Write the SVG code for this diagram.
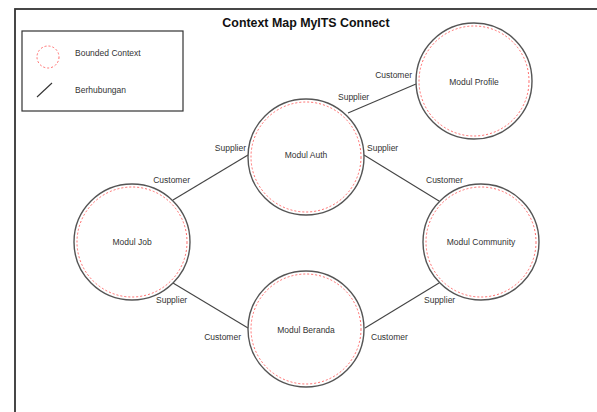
<svg xmlns="http://www.w3.org/2000/svg" width="597" height="412" viewBox="0 0 597 412">
<style>
text{font-family:"Liberation Sans",Arial,sans-serif;fill:#333;font-size:8.5px}
.title{font-size:12.4px;font-weight:bold;fill:#111}
.outer{fill:#fff;stroke:#555;stroke-width:1.4}
.inner{fill:none;stroke:#ff6b6b;stroke-width:1;stroke-dasharray:2 2}
.conn{stroke:#444;stroke-width:1.1;fill:none}
.lbl{text-anchor:middle}
</style>
<rect x="0" y="0" width="597" height="412" fill="#fff"/>
<rect x="15" y="9" width="620" height="420" fill="none" stroke="#333" stroke-width="1.8"/>
<text class="title" x="306" y="27" text-anchor="middle">Context Map MyITS Connect</text>
<g id="legend">
<rect x="22" y="31" width="161" height="80" fill="none" stroke="#333" stroke-width="1.2"/>
<circle class="inner" cx="48" cy="57" r="11"/>
<text x="75" y="56">Bounded Context</text>
<line x1="37" y1="97" x2="52" y2="83" stroke="#333" stroke-width="1.1"/>
<text x="75" y="93">Berhubungan</text>
</g>
<g id="connectors">
<line class="conn" x1="348" y1="113" x2="416" y2="84"/>
<line class="conn" x1="248" y1="155" x2="173" y2="200"/>
<line class="conn" x1="364" y1="155" x2="439" y2="201"/>
<line class="conn" x1="173" y1="283" x2="248" y2="328"/>
<line class="conn" x1="365" y1="328" x2="439" y2="283"/>
<text x="412" y="78" text-anchor="end">Customer</text>
<text x="338" y="100">Supplier</text>
<text x="246" y="151" text-anchor="end">Supplier</text>
<text x="367" y="151">Supplier</text>
<text x="190" y="183" text-anchor="end">Customer</text>
<text x="426" y="183">Customer</text>
<text x="156" y="303">Supplier</text>
<text x="424" y="303">Supplier</text>
<text x="241" y="340" text-anchor="end">Customer</text>
<text x="371" y="340">Customer</text>
</g>
<g id="modul-profile">
<circle class="outer" cx="474" cy="81" r="58"/>
<circle class="inner" cx="474" cy="81" r="55"/>
<text class="lbl" x="474" y="85">Modul Profile</text>
</g>
<g id="modul-auth">
<circle class="outer" cx="306" cy="157" r="58"/>
<circle class="inner" cx="306" cy="157" r="55"/>
<text class="lbl" x="306" y="158">Modul Auth</text>
</g>
<g id="modul-job">
<circle class="outer" cx="132" cy="242" r="58"/>
<circle class="inner" cx="132" cy="242" r="55"/>
<text class="lbl" x="132" y="245">Modul Job</text>
</g>
<g id="modul-community">
<circle class="outer" cx="481" cy="242" r="58"/>
<circle class="inner" cx="481" cy="242" r="55"/>
<text class="lbl" x="481" y="245">Modul Community</text>
</g>
<g id="modul-beranda">
<circle class="outer" cx="306" cy="329" r="58"/>
<circle class="inner" cx="306" cy="329" r="55"/>
<text class="lbl" x="306" y="333">Modul Beranda</text>
</g>
</svg>
